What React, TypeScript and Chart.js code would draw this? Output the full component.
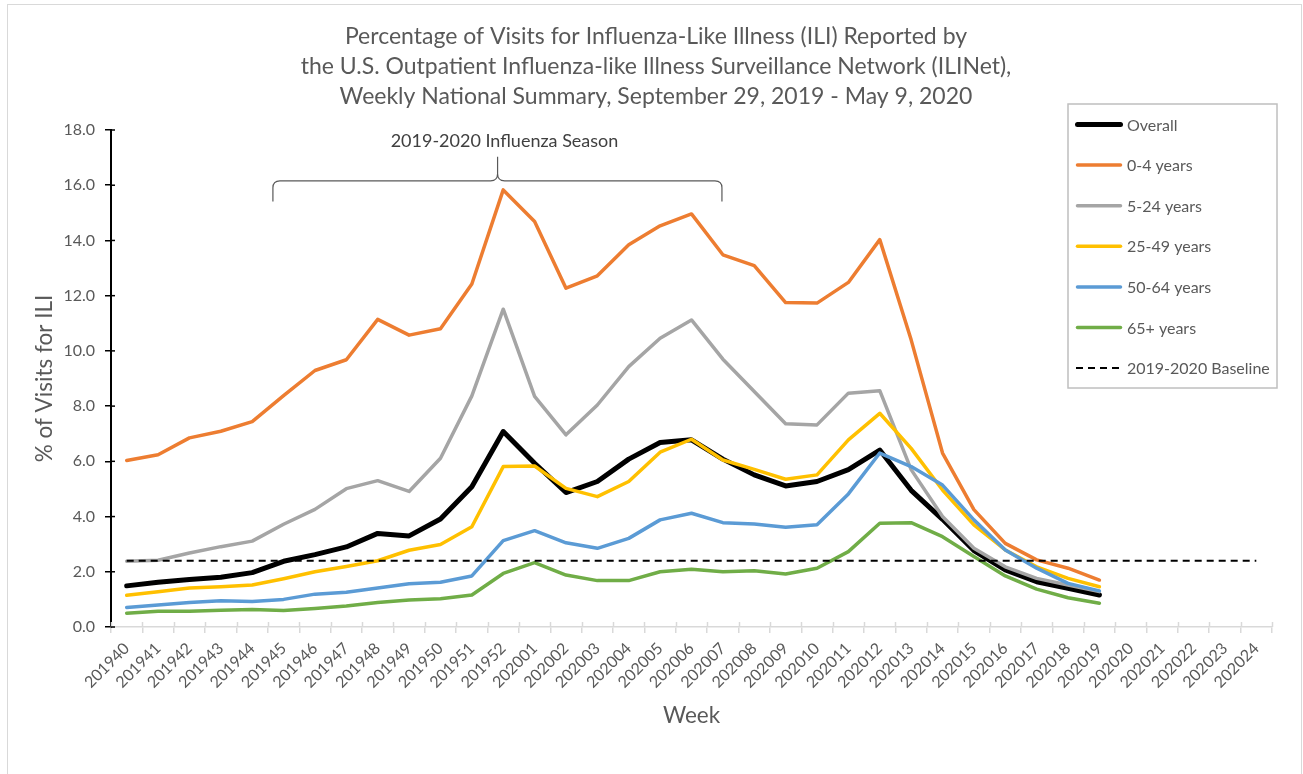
import React, { useEffect, useRef } from "react";
import { Chart, registerables } from "chart.js";

Chart.register(...registerables);

const FONT = "Lato, 'Open Sans', sans-serif";
const TEXT = "#595959";

const TITLE_LINES = [
  "Percentage of Visits for Influenza-Like Illness (ILI) Reported by",
  "the U.S. Outpatient Influenza-like Illness Surveillance Network (ILINet),",
  "Weekly National Summary, September 29, 2019 - May 9, 2020",
];
const X_TITLE = "Week";
const Y_TITLE = "% of Visits for ILI";
const SEASON_LABEL = "2019-2020 Influenza Season";

const WEEKS = [
  "201940", "201941", "201942", "201943", "201944", "201945", "201946", "201947",
  "201948", "201949", "201950", "201951", "201952", "202001", "202002", "202003",
  "202004", "202005", "202006", "202007", "202008", "202009", "202010", "202011",
  "202012", "202013", "202014", "202015", "202016", "202017", "202018", "202019",
  "202020", "202021", "202022", "202023", "202024",
];

const OVERALL = [
  1.49, 1.62, 1.72, 1.8, 1.97, 2.38, 2.62, 2.9, 3.39, 3.3, 3.91, 5.08, 7.08, 5.93, 4.87, 5.27,
  6.08, 6.68, 6.78, 6.08, 5.51, 5.11, 5.27, 5.7, 6.41, 4.95, 3.9, 2.77, 2.07, 1.64, 1.4, 1.16,
];
const AGE_0_4 = [
  6.03, 6.24, 6.85, 7.09, 7.44, 8.38, 9.29, 9.68, 11.14, 10.57, 10.8, 12.42, 15.83, 14.69, 12.27, 12.72,
  13.84, 14.53, 14.96, 13.48, 13.09, 11.75, 11.73, 12.48, 14.03, 10.4, 6.3, 4.25, 3.03, 2.43, 2.13, 1.7,
];
const AGE_5_24 = [
  2.38, 2.42, 2.68, 2.91, 3.11, 3.72, 4.26, 5.01, 5.3, 4.91, 6.11, 8.37, 11.51, 8.35, 6.96, 8.04,
  9.43, 10.46, 11.12, 9.7, 8.53, 7.36, 7.32, 8.47, 8.56, 5.7, 4.0, 2.85, 2.18, 1.76, 1.52, 1.28,
];
const AGE_25_49 = [
  1.15, 1.28, 1.41, 1.46, 1.52, 1.75, 2.0, 2.19, 2.4, 2.78, 2.99, 3.63, 5.81, 5.83, 5.02, 4.72,
  5.27, 6.33, 6.8, 6.05, 5.71, 5.35, 5.51, 6.78, 7.74, 6.47, 4.96, 3.7, 2.79, 2.18, 1.76, 1.46,
];
const AGE_50_64 = [
  0.71, 0.8, 0.89, 0.95, 0.92, 1.0, 1.19, 1.26, 1.41, 1.57, 1.62, 1.85, 3.13, 3.49, 3.05, 2.85,
  3.21, 3.88, 4.12, 3.78, 3.73, 3.61, 3.7, 4.82, 6.3, 5.81, 5.14, 3.88, 2.79, 2.13, 1.58, 1.31,
];
const AGE_65 = [
  0.5, 0.57, 0.57, 0.61, 0.63, 0.6, 0.67, 0.76, 0.89, 0.98, 1.02, 1.16, 1.94, 2.33, 1.88, 1.68,
  1.68, 2.0, 2.09, 2.0, 2.04, 1.92, 2.13, 2.73, 3.76, 3.78, 3.27, 2.55, 1.85, 1.37, 1.06, 0.86,
];
const BASELINE = [
  2.4, 2.4, 2.4, 2.4, 2.4, 2.4, 2.4, 2.4, 2.4, 2.4, 2.4, 2.4, 2.4, 2.4, 2.4, 2.4, 2.4, 2.4, 2.4,
  2.4, 2.4, 2.4, 2.4, 2.4, 2.4, 2.4, 2.4, 2.4, 2.4, 2.4, 2.4, 2.4, 2.4, 2.4, 2.4, 2.4, 2.4,
];

const SERIES_LABELS = [
  "Overall", "0-4 years", "5-24 years", "25-49 years", "50-64 years", "65+ years", "2019-2020 Baseline",
];
const SERIES_COLORS = ["#000000", "#ED7D31", "#A5A5A5", "#FFC000", "#5B9BD5", "#70AD47", "#000000"];

// bracket annotation anchored on the scales (category index / value)
const BRACKET = { left: 4.66, mid: 11.82, right: 18.97, top: 16.16, end: 15.41, peak: 17.03, text: 17.61, textX: 12.04 };

const decorPlugin = {
  id: "decor",
  afterDraw(chart: any) {
    const { ctx, chartArea, scales } = chart;
    const xs = scales.x;
    const ys = scales.y;
    ctx.save();

    // cross tick marks inside the plot
    ctx.strokeStyle = "#d9d9d9";
    ctx.lineWidth = 1.5;
    for (let i = 0; i <= WEEKS.length; i++) {
      const px = Math.round(xs.getPixelForValue(i - 0.5)) + 0.5;
      ctx.beginPath();
      ctx.moveTo(px, chartArea.bottom - 5);
      ctx.lineTo(px, chartArea.bottom);
      ctx.stroke();
    }
    ctx.strokeStyle = "#000";
    for (let v = 0; v <= 18; v += 2) {
      const py = ys.getPixelForValue(v);
      ctx.beginPath();
      ctx.moveTo(chartArea.left, py);
      ctx.lineTo(chartArea.left + 4, py);
      ctx.stroke();
    }

    // title
    ctx.fillStyle = TEXT;
    ctx.textAlign = "center";
    ctx.textBaseline = "middle";
    ctx.font = `23px ${FONT}`;
    TITLE_LINES.forEach((t, i) => ctx.fillText(t, 656, 37 + i * 30));

    // axis titles
    ctx.font = `22.5px ${FONT}`;
    ctx.fillText(X_TITLE, (chartArea.left + chartArea.right) / 2, 716);
    ctx.save();
    ctx.translate(45, (chartArea.top + chartArea.bottom) / 2);
    ctx.rotate(-Math.PI / 2);
    ctx.fillText(Y_TITLE, 0, 0);
    ctx.restore();

    // season bracket
    const L = xs.getPixelForValue(BRACKET.left);
    const M = xs.getPixelForValue(BRACKET.mid);
    const R = xs.getPixelForValue(BRACKET.right);
    const T = ys.getPixelForValue(BRACKET.top);
    const E = ys.getPixelForValue(BRACKET.end);
    const P = ys.getPixelForValue(BRACKET.peak);
    const r = 7;
    ctx.strokeStyle = "#595959";
    ctx.lineWidth = 1.2;
    ctx.beginPath();
    ctx.moveTo(L, E);
    ctx.lineTo(L, T + r);
    ctx.quadraticCurveTo(L, T, L + r, T);
    ctx.lineTo(M - r, T);
    ctx.quadraticCurveTo(M, T, M, T - r);
    ctx.lineTo(M, P);
    ctx.moveTo(M, T - r);
    ctx.quadraticCurveTo(M, T, M + r, T);
    ctx.lineTo(R - r, T);
    ctx.quadraticCurveTo(R, T, R, T + r);
    ctx.lineTo(R, E);
    ctx.stroke();
    ctx.font = `18px ${FONT}`;
    ctx.fillStyle = "#404040";
    ctx.fillText(SEASON_LABEL, xs.getPixelForValue(BRACKET.textX), ys.getPixelForValue(BRACKET.text));

    // legend
    const bx = 1068, by = 104, bw = 209, bh = 284;
    ctx.fillStyle = "#fff";
    ctx.fillRect(bx, by, bw, bh);
    ctx.strokeStyle = "#bfbfbf";
    ctx.lineWidth = 1.5;
    ctx.strokeRect(bx, by, bw, bh);
    ctx.font = `16px ${FONT}`;
    ctx.textAlign = "left";
    chart.data.datasets.forEach((ds: any, i: number) => {
      const cy = 124.5 + i * 40.6;
      ctx.beginPath();
      ctx.strokeStyle = ds.borderColor;
      ctx.lineWidth = ds.borderDash ? 2 : ds.borderWidth;
      if (ds.borderDash) {
        ctx.setLineDash(ds.borderDash);
        ctx.lineCap = "butt";
        ctx.moveTo(1076, cy);
        ctx.lineTo(1120, cy);
      } else {
        ctx.setLineDash([]);
        ctx.lineCap = "round";
        ctx.moveTo(1077.5, cy);
        ctx.lineTo(1120.5, cy);
      }
      ctx.stroke();
      ctx.setLineDash([]);
      ctx.fillStyle = TEXT;
      ctx.fillText(ds.label, 1127, cy + 1);
    });

    ctx.restore();
  },
};

export default function App() {
  const ref = useRef<HTMLCanvasElement>(null);

  useEffect(() => {
    Chart.defaults.font.family = FONT;
    const values = [OVERALL, AGE_0_4, AGE_5_24, AGE_25_49, AGE_50_64, AGE_65, BASELINE];
    const datasets = values.map((data, i) => {
      const isBase = i === values.length - 1;
      return {
        label: SERIES_LABELS[i],
        data,
        borderColor: SERIES_COLORS[i],
        backgroundColor: SERIES_COLORS[i],
        borderWidth: isBase ? 2 : i === 0 ? 5 : 3.5,
        borderDash: isBase ? [7, 5] : undefined,
        borderJoinStyle: "round" as const,
        borderCapStyle: isBase ? ("butt" as const) : ("round" as const),
        pointRadius: 0,
        tension: 0,
        fill: false,
        order: isBase ? 0 : values.length - 1 - i,
      };
    });

    const chart = new Chart(ref.current!, {
      type: "line",
      data: { labels: WEEKS, datasets },
      options: {
        responsive: false,
        animation: false,
        devicePixelRatio: 1,
        layout: { padding: { top: 130, right: 31, bottom: 0, left: 0 } },
        plugins: {
          legend: { display: false },
          title: { display: false },
          tooltip: { enabled: false },
        },
        scales: {
          x: {
            type: "category",
            offset: true,
            afterFit: (s: any) => {
              s.height = 147;
            },
            grid: {
              offset: true,
              drawOnChartArea: false,
              color: "#d9d9d9",
              lineWidth: 1.5,
              tickLength: 6,
            },
            border: { display: true, color: "#d9d9d9", width: 1.5 },
            ticks: {
              autoSkip: false,
              minRotation: 45,
              maxRotation: 45,
              padding: 6,
              color: TEXT,
              font: { size: 16, family: FONT },
            },
          },
          y: {
            min: 0,
            max: 18,
            afterFit: (s: any) => {
              s.width = 111;
            },
            grid: {
              drawOnChartArea: false,
              color: "#000",
              lineWidth: 1.5,
              tickLength: 6,
            },
            border: { display: true, color: "#000", width: 2 },
            ticks: {
              stepSize: 2,
              padding: 10,
              color: TEXT,
              font: { size: 16, family: FONT },
              callback: (v: any) => Number(v).toFixed(1),
            },
          },
        },
      },
      plugins: [decorPlugin],
    });
    return () => chart.destroy();
  }, []);

  return (
    <div
      style={{
        position: "absolute",
        left: 0,
        top: 0,
        width: 1303,
        height: 774,
        overflow: "hidden",
        background: "#fff",
      }}
    >
      <div
        style={{
          position: "absolute",
          left: 7,
          top: 4,
          width: 1295,
          height: 800,
          border: "1.5px solid #d9d9d9",
          boxSizing: "border-box",
        }}
      />
      <canvas
        ref={ref}
        width={1303}
        height={774}
        style={{ position: "absolute", left: 0, top: 0, width: 1303, height: 774 }}
      />
    </div>
  );
}
